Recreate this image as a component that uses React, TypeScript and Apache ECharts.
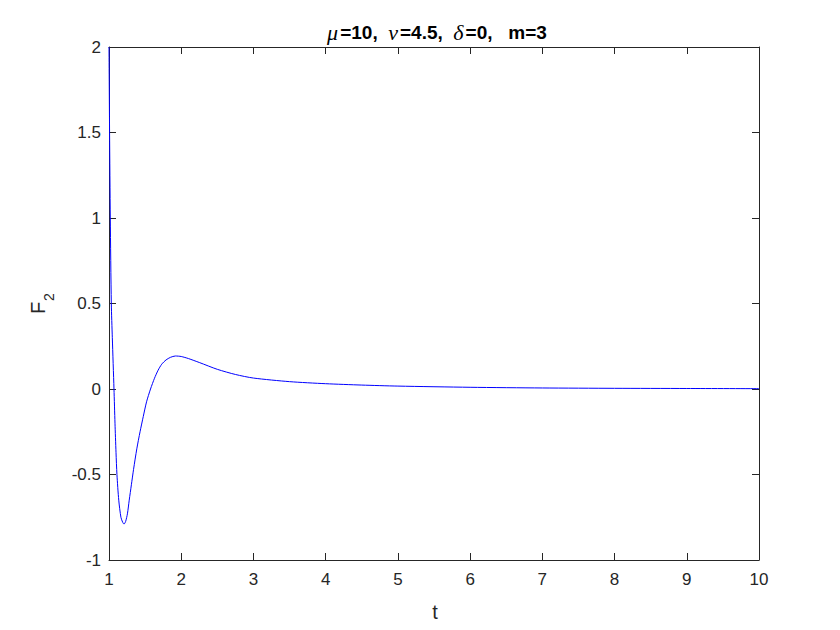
import React, { useEffect, useRef } from "react";
import * as echarts from "echarts";

const tValues = [1.0, 1.008, 1.018, 1.032, 1.046, 1.069, 1.083, 1.097, 1.11, 1.135, 1.165, 1.19, 1.208, 1.23, 1.255, 1.28, 1.31, 1.34, 1.385, 1.43, 1.475, 1.52, 1.575, 1.63, 1.68, 1.73, 1.79, 1.85, 1.92, 2.0, 2.1, 2.25, 2.5, 2.75, 3, 3.5, 4, 4.5, 5, 6, 7, 8, 9, 10];
const f2Values = [2.0, 1.5, 1.0, 0.5, 0.3, 0.0, -0.2, -0.37, -0.5, -0.65, -0.75, -0.78, -0.79, -0.775, -0.73, -0.65, -0.56, -0.47, -0.35, -0.25, -0.16, -0.075, 0.0, 0.063, 0.11, 0.145, 0.17, 0.185, 0.193, 0.19, 0.178, 0.155, 0.115, 0.085, 0.064, 0.043, 0.031, 0.023, 0.017, 0.01, 0.006, 0.004, 0.003, 0.002];
const xTickLabels = ["1", "2", "3", "4", "5", "6", "7", "8", "9", "10"];
const yTickLabels = ["-1", "-0.5", "0", "0.5", "1", "1.5", "2"];

const axisColor = "#262626";
const font = "Arial, 'Liberation Sans', Helvetica, sans-serif";
const serif = "'Liberation Serif', 'DejaVu Serif', serif";

export default function App() {
  const ref = useRef<HTMLDivElement>(null);
  useEffect(() => {
    if (!ref.current) return;
    const chart = echarts.init(ref.current, undefined, { renderer: "svg" });
    const data = tValues.map((t, i) => [t, f2Values[i]]);
    const tickCommon = {
      show: true,
      inside: true,
      length: 7,
      lineStyle: { color: axisColor, width: 1 },
    };
    const lineCommon = { show: true, onZero: false, lineStyle: { color: axisColor, width: 1 } };
    chart.setOption({
      animation: false,
      backgroundColor: "#ffffff",
      title: {
        text: "{g|μ}{n|=10,  }{g|ν}{n|=4.5,  }{g|δ}{n|=0,   m=3}",
        left: 424,
        textAlign: "center",
        top: 8,
        textStyle: {
          rich: {
            g: { fontFamily: serif, fontStyle: "italic", fontWeight: "normal", fontSize: 22, color: "#000", padding: [0, 2, 0, 0] },
            n: { fontFamily: font, fontWeight: "bold", fontSize: 19, color: "#000" },
          },
        },
      },
      grid: { left: 101, right: 73, top: 39, bottom: 62 },
      xAxis: [
        {
          type: "value",
          min: 1,
          max: 10,
          interval: 1,
          position: "bottom",
          axisLine: lineCommon,
          axisTick: tickCommon,
          splitLine: { show: false },
          axisLabel: {
            color: axisColor,
            fontFamily: font,
            fontSize: 17,
            margin: 11,
            formatter: (v: number) => xTickLabels[Math.round(v) - 1] ?? String(v),
          },
        },
        {
          type: "value",
          min: 1,
          max: 10,
          interval: 1,
          position: "top",
          axisLine: lineCommon,
          axisTick: tickCommon,
          splitLine: { show: false },
          axisLabel: { show: false },
        },
      ],
      yAxis: [
        {
          type: "value",
          min: -1,
          max: 2,
          interval: 0.5,
          position: "left",
          axisLine: lineCommon,
          axisTick: tickCommon,
          splitLine: { show: false },
          axisLabel: {
            color: axisColor,
            fontFamily: font,
            fontSize: 17,
            margin: 8,
            formatter: (v: number) => {
              const idx = Math.round((v + 1) / 0.5);
              return yTickLabels[idx] ?? String(v);
            },
          },
        },
        {
          type: "value",
          min: -1,
          max: 2,
          interval: 0.5,
          position: "right",
          axisLine: lineCommon,
          axisTick: tickCommon,
          splitLine: { show: false },
          axisLabel: { show: false },
        },
      ],
      graphic: [
        {
          type: "text",
          x: 427,
          y: 604,
          style: { text: "t", fontFamily: font, fontSize: 20, fill: axisColor, textAlign: "center", textVerticalAlign: "middle" },
        },
        {
          type: "group",
          x: 40,
          y: 296,
          rotation: Math.PI / 2,
          children: [
            {
              type: "text",
              x: -10,
              y: 0,
              style: { text: "F", fontFamily: font, fontSize: 20, fill: axisColor, textAlign: "left", textVerticalAlign: "bottom" },
            },
            {
              type: "text",
              x: 3,
              y: 8,
              style: { text: "2", fontFamily: font, fontSize: 14, fill: axisColor, textAlign: "left", textVerticalAlign: "bottom" },
            },
          ],
        },
      ],
      series: [
        {
          type: "line",
          xAxisIndex: 0,
          yAxisIndex: 0,
          data,
          smooth: 0.25,
          symbol: "none",
          clip: true,
          lineStyle: { color: "#0000ff", width: 1 },
        },
      ],
    });
    return () => chart.dispose();
  }, []);
  return <div ref={ref} style={{ width: 824, height: 614 }} />;
}
